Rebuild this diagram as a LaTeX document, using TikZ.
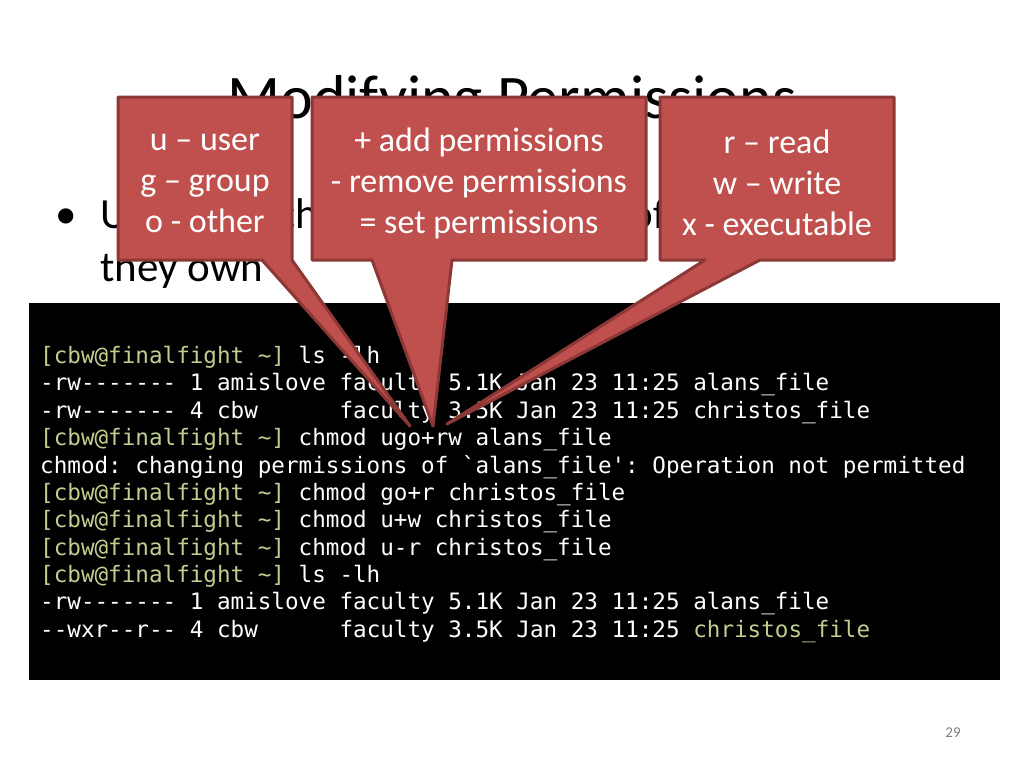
\documentclass[tikz,border=0pt]{standalone}
\usepackage{fontspec}
\setmainfont{Carlito}
\setmonofont{DejaVu Sans Mono}
\usepackage{xcolor}
\definecolor{callfill}{HTML}{C0504D}
\definecolor{callline}{HTML}{8C3836}
\definecolor{prompt}{HTML}{BFCF8F}
\tikzset{
  callout/.style={fill=callfill,draw=callline,line width=3pt,line join=round},
  calltext/.style={text=white,align=center,font=\fontsize{34}{41}\selectfont},
  termline/.style={anchor=base west,text=white,inner sep=0pt,font=\ttfamily\fontsize{22.6}{24}\selectfont},
  slidetext/.style={anchor=base west,inner sep=0pt,font=\fontsize{43}{48}\selectfont},
}
\newcommand{\prm}{\textcolor{prompt}{[cbw@finalfight \textasciitilde]}}
\begin{document}
\begin{tikzpicture}[x=1pt,y=-1pt]
	\useasboundingbox[fill=white] (0,0) rectangle (1024,768);
	% title and bullet
	\node[anchor=base,inner sep=0pt,font=\fontsize{62}{66}\selectfont] (title) at (512,118) {Modifying Permissions};
	\node[slidetext] (bullet) at (55,228) {\textbullet};
	\node[slidetext] (bline) at (100,228) {Users can change permissions of files};
	\node[slidetext] (bline2) at (100,281) {they own};
	% terminal
	\fill[black] (29,303) rectangle (1000,680);
	\foreach \Yc/\Texto in {
		363/{\prm{} ls -lh},
		390/{-rw------- 1 amislove faculty 5.1K Jan 23 11:25 alans\_file},
		418/{-rw------- 4 cbw~~~~~~faculty 3.5K Jan 23 11:25 christos\_file},
		445/{\prm{} chmod ugo+rw alans\_file},
		473/{chmod: changing permissions of `alans\_file': Operation not permitted},
		500/{\prm{} chmod go+r christos\_file},
		527/{\prm{} chmod u+w christos\_file},
		555/{\prm{} chmod u-r christos\_file},
		582/{\prm{} ls -lh},
		609/{-rw------- 1 amislove faculty 5.1K Jan 23 11:25 alans\_file},
		637/{--wxr--r-- 4 cbw~~~~~~faculty 3.5K Jan 23 11:25 \textcolor{prompt}{christos\_file}}}
	{
		\node[termline] at (40,\Yc) {\Texto};
	}
	% callouts
	\draw[callout] (118,97) -- (292,97) -- (292,260) -- (410,426) -- (262,260) -- (118,260) -- cycle;
	\draw[callout] (312,97) -- (646,97) -- (646,260) -- (452,260) -- (433,426) -- (372,260) -- (312,260) -- cycle;
	\draw[callout] (660,97) -- (894,97) -- (894,260) -- (760,260) -- (447,424) -- (705,260) -- (660,260) -- cycle;
	\node[calltext] (who) at (205,183) {u -- user\\g -- group\\o - other};
	\node[calltext] (how) at (479,183) {+ add permissions\\- remove permissions\\= set permissions};
	\node[calltext] (what) at (777,183) {r -- read\\w -- write\\x - executable};
	\node[text=gray,font=\fontsize{15}{18}\selectfont] (page) at (953,733) {29};
\end{tikzpicture}
\end{document}
